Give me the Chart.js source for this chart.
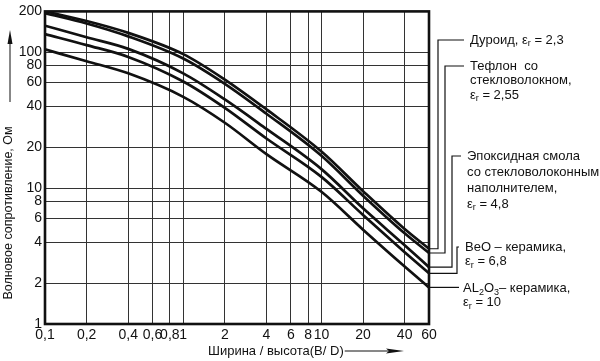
<!DOCTYPE html>
<html>
<head>
<meta charset="utf-8">
<script src="https://cdn.jsdelivr.net/npm/chart.js@4.4.1/dist/chart.umd.min.js"></script>
<style>
html,body{margin:0;padding:0;background:#fff;}
#wrap{width:600px;height:361px;}
</style>
</head>
<body>
<div id="wrap"><canvas id="c" width="600" height="361"></canvas></div>
<script>
// ---- data ----
const xValues   = [0.1, 0.2, 0.4, 1, 2, 4, 10, 20, 40, 60];
const duroid    = [200, 170, 139, 97, 63, 38, 18.6, 9.5, 5.0, 3.58];
const teflon    = [194, 163, 131, 90, 58.6, 35.3, 17.3, 8.8, 4.65, 3.33];
const epoxy     = [157, 129, 106, 70, 45, 27.3, 13.8, 7.1, 3.8, 2.62];
const beo       = [136, 113, 92.5, 61, 39, 23.2, 12.1, 6.35, 3.38, 2.36];
const alumina   = [105, 86, 70, 47, 30.3, 17.8, 9.4, 4.95, 2.65, 1.86];
const xTicks    = [0.1, 0.2, 0.4, 0.6, 0.8, 1, 2, 4, 6, 8, 10, 20, 40, 60];
const yTicks    = [1, 2, 4, 6, 8, 10, 20, 40, 60, 80, 100, 200];
const seriesNames = ['Дуроид', 'Тефлон со стекловолокном', 'Эпоксидная смола со стекловолоконным наполнителем', 'BeO-керамика', 'AL2O3-керамика'];
const yTitle = 'Волновое сопротивление, Ом';
const xTitle = 'Ширина / высота(B/ D)';

const seriesData = [duroid, teflon, epoxy, beo, alumina];
const fmt = v => String(v).replace('.', ',');

const datasets = seriesData.map((arr, i) => ({
  label: seriesNames[i],
  data: xValues.map((x, j) => ({x: x, y: arr[j]})),
  borderColor: '#111',
  borderWidth: 2.7,
  pointRadius: 0,
  fill: false,
  cubicInterpolationMode: 'monotone'
}));

// label blocks: each line is a list of [text, sub?]
const eps = (val) => [['ε', false], ['r', true], [' = ' + val, false]];
const labelBlocks = [
  {vx: 438, ty: 40, lx: 470, lines: [[['Дуроид, ', false]].concat(eps('2,3'))]},
  {vx: 445, ty: 66, lx: 470, lines: [[['Тефлон  со', false]], [['стекловолокном,', false]], eps('2,55')]},
  {vx: 452, ty: 156, lx: 467, lines: [[['Эпоксидная смола', false]], [['со стекловолоконным', false]], [['наполнителем,', false]], eps('4,8')]},
  {vx: 457, ty: 247, lx: 465, lines: [[['BeO – керамика,', false]], eps('6,8')]},
  {vx: null, ty: null, lx: 463, lines: [[['AL', false], ['2', true], ['O', false], ['3', true], ['– керамика,', false]], eps('10')]}
];

function drawRich(ctx, parts, x, y, size) {
  let cx = x;
  parts.forEach(([t, sub]) => {
    ctx.font = (sub ? Math.round(size * 0.72) : size) + 'px "Liberation Sans", Arial, sans-serif';
    ctx.fillText(t, cx, sub ? y + 4 : y);
    cx += ctx.measureText(t).width;
  });
}

const decor = {
  id: 'decor',
  afterDraw(chart) {
    const ctx = chart.ctx;
    const {left, right, top, bottom} = chart.chartArea;
    const ys = chart.scales.y;
    ctx.save();
    // frame
    ctx.strokeStyle = '#111';
    ctx.lineWidth = 2.6;
    ctx.strokeRect(left, top, right - left, bottom - top);

    // connectors and labels
    ctx.lineWidth = 1.2;
    ctx.fillStyle = '#111';
    ctx.textBaseline = 'middle';
    ctx.textAlign = 'left';
    labelBlocks.forEach((b, i) => {
      const arr = seriesData[i];
      const ey = ys.getPixelForValue(arr[arr.length - 1]);
      ctx.beginPath();
      if (b.vx !== null) {
        ctx.moveTo(right, ey);
        ctx.lineTo(b.vx, ey);
        ctx.lineTo(b.vx, b.ty);
        ctx.lineTo(b.lx - 6, b.ty);
      } else {
        ctx.moveTo(right, ey);
        ctx.lineTo(b.lx - 4, ey);
      }
      ctx.stroke();
      const startY = b.ty !== null ? b.ty : ey + 1;
      const step = i === 2 ? 16 : 14.5;
      b.lines.forEach((ln, k) => drawRich(ctx, ln, b.lx, startY + k * step, 13));
    });

    // y title (rotated) with arrow
    ctx.save();
    ctx.translate(9, 213);
    ctx.rotate(-Math.PI / 2);
    ctx.textAlign = 'center';
    ctx.font = '12.5px "Liberation Sans", Arial, sans-serif';
    ctx.fillText(yTitle, 0, 0);
    ctx.restore();
    ctx.lineWidth = 1;
    ctx.beginPath();
    ctx.moveTo(10, 102); ctx.lineTo(10, 40); ctx.stroke();
    ctx.beginPath();
    ctx.moveTo(10, 30); ctx.lineTo(12.5, 44); ctx.lineTo(7.5, 44); ctx.closePath(); ctx.fill();

    // x title with arrow
    ctx.textAlign = 'left';
    ctx.font = '13px "Liberation Sans", Arial, sans-serif';
    ctx.fillText(xTitle, 208, 351);
    const tw = ctx.measureText(xTitle).width;
    ctx.beginPath();
    ctx.moveTo(208 + tw + 1, 351); ctx.lineTo(392, 351); ctx.stroke();
    ctx.beginPath();
    ctx.moveTo(404, 351); ctx.lineTo(386, 348.5); ctx.lineTo(389, 351); ctx.lineTo(386, 353.5); ctx.closePath(); ctx.fill();
    ctx.restore();
  }
};

new Chart(document.getElementById('c'), {
  type: 'line',
  data: {datasets},
  options: {
    responsive: false,
    animation: false,
    devicePixelRatio: 1,
    layout: {padding: {left: 0, right: 171, top: 10, bottom: 0}},
    plugins: {legend: {display: false}, tooltip: {enabled: false}},
    scales: {
      x: {
        type: 'logarithmic', min: 0.1, max: 60,
        afterBuildTicks: s => { s.ticks = xTicks.map(v => ({value: v})); },
        afterFit: s => { s.height = 37; },
        grid: {color: '#333', lineWidth: 1, drawTicks: false},
        border: {display: false},
        ticks: {
          autoSkip: false, maxRotation: 0, padding: 3, color: '#111',
          font: {family: '"Liberation Sans", Arial, sans-serif', size: 14},
          callback: v => fmt(v)
        }
      },
      y: {
        type: 'logarithmic', min: 1, max: 200,
        afterBuildTicks: s => { s.ticks = yTicks.map(v => ({value: v})); },
        afterFit: s => { s.width = 45; },
        grid: {color: '#333', lineWidth: 1, drawTicks: false},
        border: {display: false},
        ticks: {
          autoSkip: false, padding: 3, color: '#111',
          font: {family: '"Liberation Sans", Arial, sans-serif', size: 14},
          callback: v => fmt(v)
        }
      }
    }
  },
  plugins: [decor]
});
</script>
</body>
</html>
